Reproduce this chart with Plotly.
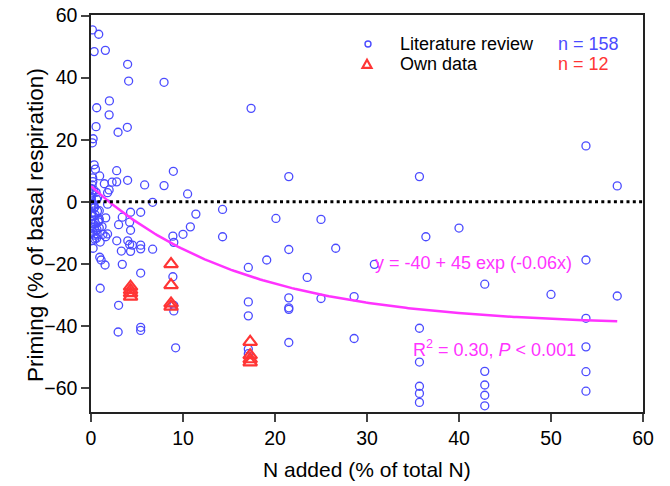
import numpy as np
import plotly.graph_objects as go

# Literature review data (N added %, priming %)
lit_x = [0.15, 0.84, 0.34, 1.56, 3.98, 4.09, 7.94, 2.0, 0.62, 1.97, 0.55, 2.94, 3.95, 0.23, 0.15,
         0.34, 0.48, 2.79, 8.95, 0.18, 0.94, 1.45, 2.29, 2.79, 3.98, 5.83, 7.94, 10.5, 0.12, 0.0,
         1.97, 0.3, 1.8, 0.04, 0.73, 0.62, 0.0, 6.7, 1.8, 0.3, 0.0, 0.9, 0.08, 4.3, 5.4,
         11.4, 0.0, 0.9, 0.37, 1.6, 3.4, 4.2, 3.0, 0.0, 0.9, 0.37, 4.3, 10.8, 10.0, 8.9,
         9.0, 0.0, 0.66, 1.3, 1.8, 1.6, 2.8, 4.0, 4.2, 4.5, 5.4, 5.4, 3.3, 4.3, 6.7,
         0.23, 0.95, 1.1, 1.53, 3.4, 5.4, 8.9, 1.0, 3.0, 2.95, 5.4, 5.4, 9.0, 9.0, 9.2,
         17.4, 21.5, 35.7, 14.3, 20.1, 25.0, 14.3, 36.4, 21.5, 26.6, 19.1, 17.1, 30.8, 23.5, 17.1,
         17.1, 21.5, 21.5, 21.5, 25.0, 28.6, 21.5, 28.6, 35.7, 35.7, 35.7, 35.7, 35.7, 53.8, 57.2,
         40.0, 53.8, 42.8, 50.0, 57.2, 53.8, 53.8, 42.8, 53.8, 42.8, 42.8, 42.8, 53.8, 17.1, 17.1,
         0.1, 0.5, 0.2, 0.7, 0.4, 0.05, 0.8, 0.3, 0.6, 1.2, 0.1, 0.45, 1.0, 0.25, 0.55,
         0.15, 0.35, 0.85, 0.2, 0.65, 0.1, 0.4]
lit_y = [55.4, 54.0, 48.4, 48.8, 44.3, 38.9, 38.5, 32.5, 30.3, 28.0, 24.2, 22.4, 24.0, 20.3, 19.0,
         11.9, 10.5, 10.0, 9.8, 7.7, 8.3, 5.8, 6.3, 6.4, 6.9, 5.4, 5.2, 2.5, 5.4, 4.3,
         3.8, 3.8, 2.9, 1.6, 1.4, 0.8, 1.1, -0.2, -0.8, -1.1, -1.6, -2.9, -3.7, -3.4, -3.4,
         -4.0, -5.9, -5.6, -5.9, -5.2, -5.0, -6.6, -7.4, -8.1, -8.4, -8.9, -9.2, -8.1, -10.5, -11.1,
         -13.1, -10.2, -10.3, -10.5, -10.4, -11.3, -12.6, -12.6, -13.8, -14.0, -14.0, -15.2, -15.9, -16.0, -15.3,
         -15.0, -17.9, -18.8, -20.4, -20.2, -23.0, -24.2, -27.9, -33.4, -42.0, -40.5, -41.5, -33.4, -35.2, -47.1,
         30.1, 8.1, 8.1, -2.5, -5.4, -5.7, -11.3, -11.3, -15.4, -15.0, -18.8, -21.2, -20.2, -24.4, -32.3,
         -36.8, -31.0, -34.2, -34.7, -31.2, -30.6, -45.4, -44.1, -40.8, -51.7, -59.5, -61.8, -64.7, 18.0, 5.1,
         -8.5, -18.8, -26.6, -29.9, -30.4, -37.6, -46.8, -54.7, -54.8, -59.1, -62.4, -65.8, -61.1, -47.5, -49.0,
         -4.5, -7.0, -9.5, -3.0, -12.0, 0.5, -6.5, -2.0, -11.8, -8.0, 2.5, -4.2, -13.0, -7.2, 3.0,
         -0.5, -10.8, -6.0, 6.5, -9.0, -12.5, -1.8]

# Own data
own_x = [4.3, 4.3, 4.3, 4.3, 8.7, 8.7, 8.7, 8.7, 17.3, 17.3, 17.3, 17.3]
own_y = [-27.4, -28.5, -29.5, -30.6, -20.1, -26.9, -32.8, -33.8, -45.2, -49.5, -50.8, -51.8]

# Fit: y = a + b exp(k x)
fit_a, fit_b, fit_k = -40, 45, -0.06
fit_xmax = 57.2

x_ticks = [0, 10, 20, 30, 40, 50, 60]
y_ticks = [-60, -40, -20, 0, 20, 40, 60]

BLUE = "#4b4bff"
RED = "#ff3535"
MAG = "#ff33ff"
FONT = "Arial, Liberation Sans, sans-serif"

fx = np.linspace(0, fit_xmax, 200)
fy = fit_a + fit_b * np.exp(fit_k * fx)

fig = go.Figure()
fig.add_trace(go.Scatter(x=lit_x, y=lit_y, mode="markers", showlegend=False,
                         marker=dict(symbol="circle-open", size=8, color=BLUE, line=dict(width=1.3, color=BLUE))))
fig.add_trace(go.Scatter(x=fx, y=fy, mode="lines", showlegend=False,
                         line=dict(color=MAG, width=2.5)))
fig.add_trace(go.Scatter(x=own_x, y=own_y, mode="markers", showlegend=False,
                         marker=dict(symbol="triangle-up-open", size=12, color=RED, line=dict(width=2.2, color=RED))))

# zero reference line
fig.add_shape(type="line", xref="paper", yref="y", x0=0, x1=1, y0=0, y1=0,
              line=dict(color="black", width=3, dash="3px,3.3px"), layer="above")

# legend keys (pixel-sized shapes anchored in paper coords)
def px_x(p):
    return (p - 91) / 552.0

def px_y(p):
    return (412 - p) / 397.0

fig.add_shape(type="circle", xref="paper", yref="paper", xsizemode="pixel", ysizemode="pixel",
              xanchor=px_x(368), yanchor=px_y(44), x0=-3, x1=3, y0=-3, y1=3,
              line=dict(color=BLUE, width=1.4))
fig.add_shape(type="path", xref="paper", yref="paper", xsizemode="pixel", ysizemode="pixel",
              xanchor=px_x(367), yanchor=px_y(64), path="M -4.5 -3.8 L 4.5 -3.8 L 0 4.2 Z",
              line=dict(color=RED, width=2.2))

ann = []
def txt(x, y, s, color, size=18, xanchor="left", angle=0):
    ann.append(dict(x=x, y=y, xref="paper", yref="paper", text=s, showarrow=False, xanchor=xanchor,
                    yanchor="middle", textangle=angle, font=dict(family=FONT, size=size, color=color)))

txt(px_x(398), px_y(44), "Literature review", "black")
txt(px_x(398), px_y(64), "Own data", "black")
txt(px_x(556), px_y(44), "n = 158", BLUE)
txt(px_x(556), px_y(64), "n = 12", RED)
txt(px_x(373), px_y(263), "y = -40 + 45 exp (-0.06x)", MAG)
txt(px_x(411), px_y(348), "R<sup>2</sup> = 0.30, <i>P</i> &lt; 0.001", MAG)
# axis titles
txt(px_x(367), px_y(470), "N added (% of total N)", "black", size=21, xanchor="center")
txt(px_x(35), px_y(225), "Priming (% of basal respiration)", "black", size=22.5, xanchor="center", angle=-90)

fig.update_layout(
    width=670, height=486,
    margin=dict(l=91, r=27, t=15, b=74, autoexpand=False),
    paper_bgcolor="white", plot_bgcolor="white",
    font=dict(family=FONT, size=19, color="black"),
    annotations=ann,
    xaxis=dict(range=[0, 60], tickvals=x_ticks, ticks="outside", ticklen=8, tickwidth=1.5,
               showline=True, linewidth=1.5, linecolor="#222", mirror=True, showgrid=False,
               zeroline=False, tickfont=dict(size=19.5), automargin=False),
    yaxis=dict(range=[-67.8, 60.2], tickvals=y_ticks, ticks="outside", ticklen=8, tickwidth=1.5,
               showline=True, linewidth=1.5, linecolor="#222", mirror=True, showgrid=False,
               zeroline=False, tickfont=dict(size=19.5), automargin=False),
)

fig.write_html("out.html")
